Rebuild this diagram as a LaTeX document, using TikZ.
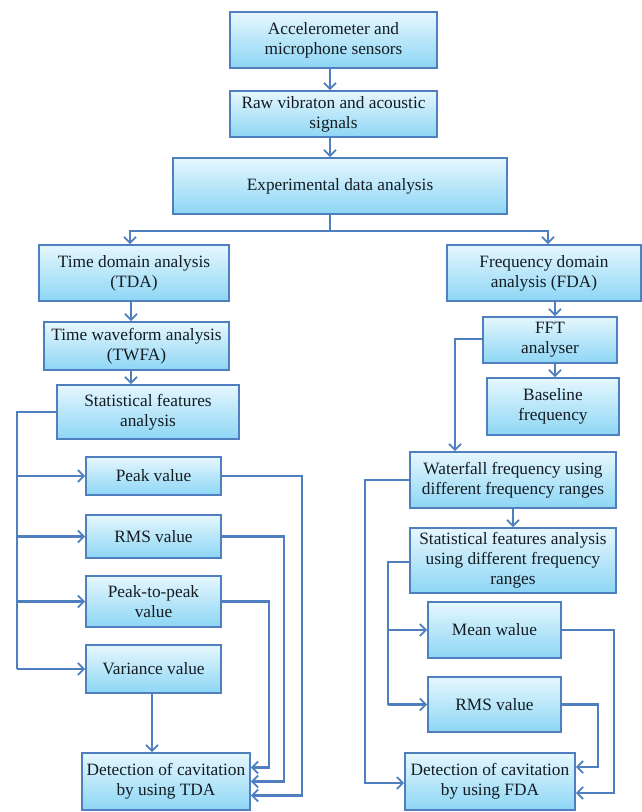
\documentclass[tikz,border=0pt]{standalone}
\usepackage{fontspec}
\setmainfont{Liberation Serif}
\usetikzlibrary{arrows.meta,calc}
\definecolor{edgeblue}{HTML}{4F7FBE}
\definecolor{topfill}{HTML}{E6F7FE}
\definecolor{botfill}{HTML}{8DD6F5}
\definecolor{txt}{HTML}{141C22}
\begin{document}
\begin{tikzpicture}[x=1pt,y=-1pt,
  box/.style={draw=edgeblue, line width=1.8pt, top color=topfill, bottom color=botfill,
    inner sep=1pt, align=center, text=txt, font=\fontsize{17.3}{20}\selectfont},
  wire/.style={draw=edgeblue, line width=2.2pt},
  arr/.style={wire, -{Straight Barb[length=6pt,width=12pt,line width=1.8pt]}}]
\useasboundingbox (0,0) rectangle (642,812);
% top chain
\node[box, minimum width=207, minimum height=56] (acc) at (333.5,40) {Accelerometer and\\microphone sensors};
\node[box, minimum width=207, minimum height=46] (raw) at (333.5,114) {Raw vibraton and acoustic\\signals};
\node[box, minimum width=334, minimum height=56] (exp) at (340,186) {Experimental data analysis};
% left column
\node[box, minimum width=190, minimum height=56] (tda) at (134,273) {Time domain analysis\\(TDA)};
\node[box, minimum width=185, minimum height=48] (twfa) at (136.5,346) {Time waveform analysis\\(TWFA)};
\node[box, minimum width=182, minimum height=54] (stat) at (148,412) {Statistical features\\analysis};
\node[box, minimum width=135, minimum height=38] (peak) at (153.5,476) {Peak value};
\node[box, minimum width=135, minimum height=43] (rms) at (153.5,536.5) {RMS value};
\node[box, minimum width=135, minimum height=51] (ptp) at (153.5,601.5) {Peak-to-peak\\value};
\node[box, minimum width=135, minimum height=48] (var) at (153.5,669) {Variance value};
\node[box, minimum width=168, minimum height=57] (dtda) at (166,781.5) {Detection of cavitation\\by using TDA};
% right column
\node[box, minimum width=194, minimum height=56] (fda) at (544,273) {Frequency domain\\analysis (FDA)};
\node[box, minimum width=134, minimum height=46] (fft) at (550,340) {FFT\\analyser};
\node[box, minimum width=132, minimum height=57] (base) at (553,406.5) {Baseline\\frequency};
\node[box, minimum width=206, minimum height=56] (wf) at (513,480) {Waterfall frequency using\\different frequency ranges};
\node[box, minimum width=206, minimum height=65] (stat2) at (513,560.5) {Statistical features analysis\\using different frequency\\ranges};
\node[box, minimum width=133, minimum height=56] (mean) at (494.5,630) {Mean walue};
\node[box, minimum width=133, minimum height=55] (rms2) at (494.5,704.5) {RMS value};
\node[box, minimum width=170, minimum height=57] (dfda) at (490,781.5) {Detection of cavitation\\by using FDA};
% guide coordinates
\coordinate (cx) at (330,0);
\coordinate (lx) at (131,0);
\coordinate (ll) at (17,0);
\coordinate (fx) at (555,0);
\coordinate (fl) at (455,0);
\coordinate (rl) at (388,0);
\coordinate (rll) at (365,0);
% top arrows
\draw[arr] (acc.south -| cx) -- (raw.north -| cx);
\draw[arr] (raw.south -| cx) -- (exp.north -| cx);
\draw[wire] (exp.south -| cx) -- ++(0,16) coordinate (split);
\draw[arr] (split) -| ($(tda.north)+(-4,0)$);
\draw[arr] (split) -| ($(fda.north)+(4,0)$);
% left chain
\draw[arr] (tda.south -| lx) -- (twfa.north -| lx);
\draw[arr] (twfa.south -| lx) -- (stat.north -| lx);
\draw[wire] (stat.west) -| (ll |- var.west);
\draw[arr] (ll |- peak.west) -- (peak.west);
\draw[arr] (ll |- rms.west) -- (rms.west);
\draw[arr] (ll |- ptp.west) -- (ptp.west);
\draw[arr] (ll |- var.west) -- (var.west);
\draw[arr] ($(var.south)+(-1.5,0)$) -- ($(var.south |- dtda.north)+(-1.5,0)$);
\draw[arr] (peak.east) -- ++(80,0) |- ($(dtda.east)+(0,14)$);
\draw[arr] (rms.east) -- ++(62,0) |- (dtda.east);
\draw[arr] (ptp.east) -- ++(47,0) |- ($(dtda.east)+(0,-14)$);
% right chain
\draw[arr] (fda.south -| fx) -- (fft.north -| fx);
\draw[arr] (fft.south -| fx) -- (base.north -| fx);
\draw[arr] (fft.west |- 0,339) -| (fl |- wf.north);
\draw[arr] (wf.south) -- (stat2.north);
\draw[wire] (stat2.west |- 0,562) -| (rl |- rms2.west);
\draw[arr] (rl |- mean.west) -- (mean.west);
\draw[arr] (rl |- rms2.west) -- (rms2.west);
\draw[arr] (wf.west) -| (rll |- 0,783) -- (dfda.west |- 0,783);
\draw[arr] (mean.east) -- ++(52,0) |- ($(dfda.east)+(0,11.5)$);
\draw[arr] (rms2.east) -- ++(36,0) |- ($(dfda.east)+(0,-14.5)$);
\end{tikzpicture}
\end{document}
